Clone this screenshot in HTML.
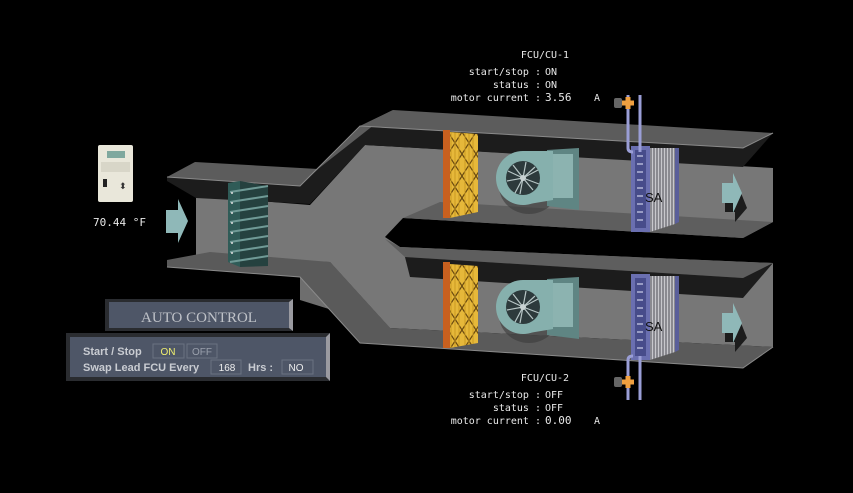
<!DOCTYPE html>
<html><head><meta charset="utf-8"><style>
html,body{margin:0;padding:0;background:#000;width:853px;height:493px;overflow:hidden}
svg{display:block}
.t{font-family:"DejaVu Sans Mono","Liberation Mono",monospace;font-size:10px;fill:#e8e8e8}
.p{font-family:"Liberation Sans",sans-serif;font-weight:bold;font-size:11px;fill:#c9ccd2}
</style></head><body>
<svg width="853" height="493" viewBox="0 0 853 493" xmlns="http://www.w3.org/2000/svg">
<defs>
<pattern id="hatch" width="14" height="22" patternUnits="userSpaceOnUse">
<rect width="14" height="22" fill="#e6b83a"/>
<path d="M0,0 L14,22 M14,0 L0,22" stroke="#6a4a10" stroke-width="1.2"/>
<path d="M3,0V22M7,0V22M11,0V22" stroke="#c99a22" stroke-width="1"/>
</pattern>
<pattern id="mesh" width="3" height="3" patternUnits="userSpaceOnUse">
<rect width="3" height="3" fill="#8a8a90"/><rect width="1" height="3" fill="#c8c8cc"/>
</pattern>
<g id="fan">
<ellipse cx="6" cy="8" rx="30" ry="28" fill="#3a3a3a" opacity="0.6"/>
<path d="M24,-28 L56,-30 L56,32 L24,28 Z" fill="#5f8583"/>
<path d="M28,-24 L50,-24 L50,20 L28,20Z" fill="#8cb3b0"/>
<circle cx="0" cy="0" r="27" fill="#86b0ad"/>
<path d="M0,-27 L30,-27 L30,22 L0,27Z" fill="#86b0ad"/>
<circle cx="0" cy="0" r="17" fill="#2d3a3c"/>
<g stroke="#b8c6c6" stroke-width="1.2">
<path d="M0,0L15,-8M0,0L10,12M0,0L-8,15M0,0L-16,3M0,0L-10,-13M0,0L3,-16M0,0L16,6M0,0L-3,16M0,0L-15,-7M0,0L12,-11"/>
</g>
<circle cx="0" cy="0" r="3" fill="#c9d3d3"/>
</g>
<g id="coil">
<rect x="0" y="0" width="19" height="86" fill="#6a6fb0"/>
<rect x="4" y="4" width="11" height="78" fill="#474c8a"/>
<g stroke="#c8cbe8" stroke-width="1.3">
<path d="M6,10h6M6,18h6M6,26h6M6,34h6M6,42h6M6,50h6M6,58h6M6,66h6M6,74h6"/>
</g>
<polygon points="19,2 44,2 44,78 19,86" fill="url(#mesh)"/>
<polygon points="44,2 48,2 48,76 44,78" fill="#5a5f9a"/>
</g>
</defs>

<!-- interior back -->
<polygon points="196,196 310,205 365,145 773,168 773,347 390,328 330,262 196,258" fill="#777"/>
<!-- lighter transition floor -->
<polygon points="300,262 330,262 390,328 300,300" fill="#6e6e6e"/>

<!-- upper black bands -->
<polygon points="167,177 300,186 360,126 743,148 743,167 365,145 310,204 196,198 167,181" fill="#1c1c1c"/>
<!-- top plates -->
<polygon points="167,177 195,162 318,169 300,186" fill="#5c5c5c"/>
<polygon points="300,186 318,169 393,110 360,126" fill="#5c5c5c"/>
<polygon points="360,126 393,110 773,133 743,148" fill="#5c5c5c"/>
<polygon points="743,148 773,133 743,167" fill="#1c1c1c"/>

<!-- middle separator -->
<polygon points="385,237 403,218 743,238 773,222 773,263 400,247" fill="#000"/>
<polygon points="403,218 440,202 773,222 743,238" fill="#5e5e5e"/>
<polygon points="385,239 400,247 773,263 743,278 405,257" fill="#5e5e5e"/>
<polygon points="405,257 743,278 743,298 410,277" fill="#1c1c1c"/>
<polygon points="743,278 773,263 743,298" fill="#1c1c1c"/>

<!-- bottom plate -->
<polygon points="167,260 210,252 330,262 390,328 773,347 743,368 360,343 300,277 167,267" fill="#5a5a5a"/>
<polyline points="167,267 300,277 360,343 743,368 773,347" fill="none" stroke="#8a8a8a" stroke-width="1"/>
<polyline points="167,177 300,186 360,126 743,148 773,133" fill="none" stroke="#8a8a8a" stroke-width="1"/>

<!-- damper -->
<polygon points="228,183 240,181 240,267 228,262" fill="#2f5b57"/>
<polygon points="240,181 268,186 268,266 240,267" fill="#25413f"/>
<g stroke="#6f9a96" stroke-width="2">
<path d="M230,192L268,186M230,202L268,196M230,212L268,206M230,222L268,216M230,232L268,226M230,242L268,236M230,252L268,246M230,262L268,256"/>
</g>
<g fill="#ddd"><circle cx="232" cy="193" r="1"/><circle cx="232" cy="203" r="1"/><circle cx="232" cy="213" r="1"/><circle cx="232" cy="223" r="1"/><circle cx="232" cy="233" r="1"/><circle cx="232" cy="243" r="1"/><circle cx="232" cy="253" r="1"/></g>

<!-- filters -->
<polygon points="443,130 450,130 450,218 443,218" fill="#c8601f"/>
<polygon points="450,132 478,134 478,212 450,218" fill="url(#hatch)"/>
<polygon points="443,262 450,262 450,348 443,348" fill="#c8601f"/>
<polygon points="450,264 478,266 478,343 450,348" fill="url(#hatch)"/>

<!-- fans -->
<use href="#fan" x="523" y="178"/>
<use href="#fan" x="523" y="307"/>

<!-- coils -->
<use href="#coil" x="631" y="146"/>
<use href="#coil" x="631" y="274"/>
<text x="645" y="202" font-family="Liberation Sans,sans-serif" font-size="13" fill="#111">SA</text>
<text x="645" y="331" font-family="Liberation Sans,sans-serif" font-size="13" fill="#111">SA</text>

<!-- pipes -->
<g stroke="#9a9ed6" stroke-width="3" fill="none">
<path d="M628,95V148Q628,152 633,152"/><path d="M640,95V152"/>
<path d="M628,400V360Q628,356 633,356"/><path d="M640,400V356"/>
</g>
<rect x="614" y="98" width="8" height="10" fill="#666" rx="2"/>
<path d="M622,103h12M628,97v12" stroke="#f0a040" stroke-width="5"/>
<rect x="614" y="377" width="8" height="10" fill="#666" rx="2"/>
<path d="M622,382h12M628,376v12" stroke="#f0a040" stroke-width="5"/>

<!-- arrows -->
<polygon points="166,210 178,210 178,199 188,221 178,243 178,233 166,233" fill="#8fb8b8"/>
<polygon points="725,186 735,186 735,178 747,208 735,222 735,212 725,212" fill="#1c1c1c"/>
<polygon points="722,183 733,183 733,173 742,193 733,213 733,203 722,203" fill="#8fb8b8"/>
<polygon points="725,316 735,316 735,308 747,338 735,352 735,342 725,342" fill="#1c1c1c"/>
<polygon points="722,313 733,313 733,303 742,323 733,343 733,333 722,333" fill="#8fb8b8"/>

<!-- thermostat -->
<rect x="98" y="145" width="35" height="57" rx="2" fill="#e9e7da"/>
<rect x="107" y="151" width="18" height="7" fill="#7fa89e"/>
<rect x="101" y="162" width="29" height="10" fill="#d8d6c8"/>
<rect x="103" y="179" width="4" height="8" fill="#222"/>
<text x="119" y="189" font-size="9" fill="#333" font-family="DejaVu Sans,sans-serif">⬍</text>
<text class="t" x="93" y="226" style="font-size:11px">70.44  °F</text>

<!-- FCU text -->
<g class="t" text-anchor="end">
<text x="545" y="58" text-anchor="middle">FCU/CU-1</text>
<text x="541" y="75">start/stop :</text>
<text x="541" y="88">status :</text>
<text x="541" y="101">motor current :</text>
<text x="545" y="381" text-anchor="middle">FCU/CU-2</text>
<text x="541" y="398">start/stop :</text>
<text x="541" y="411">status :</text>
<text x="541" y="424">motor current :</text>
</g>
<g class="t">
<text x="545" y="75">ON</text><text x="545" y="88">ON</text>
<text x="545" y="101" style="font-size:11px">3.56</text><text x="594" y="101">A</text>
<text x="545" y="398">OFF</text><text x="545" y="411">OFF</text>
<text x="545" y="424" style="font-size:11px">0.00</text><text x="594" y="424">A</text>
</g>

<!-- control panels -->
<rect x="105" y="299" width="188" height="32" fill="#2a2c30"/>
<rect x="109" y="302" width="180" height="26" fill="#4e5667"/>
<polygon points="289,302 293,299 293,331 289,328" fill="#9a9aa0"/>
<text x="199" y="322" text-anchor="middle" font-family="Liberation Serif,serif" font-size="15" fill="#bfc2c8">AUTO CONTROL</text>
<rect x="66" y="333" width="264" height="48" fill="#2a2c30"/>
<rect x="70" y="337" width="256" height="40" fill="#4e5667"/>
<polygon points="326,337 330,333 330,381 326,377" fill="#9a9aa0"/>
<text class="p" x="83" y="355">Start / Stop</text>
<text class="p" x="83" y="371">Swap Lead FCU Every</text>
<text class="p" x="248" y="371">Hrs :</text>
<rect x="153" y="344" width="31" height="14" fill="none" stroke="#6a7282"/>
<text x="168" y="355" text-anchor="middle" font-family="Liberation Sans,sans-serif" font-size="10" fill="#f0f070">ON</text>
<rect x="187" y="344" width="30" height="14" fill="none" stroke="#6a7282"/>
<text x="202" y="355" text-anchor="middle" font-family="Liberation Sans,sans-serif" font-size="10" fill="#9aa0ac">OFF</text>
<rect x="211" y="360" width="30" height="14" fill="none" stroke="#6a7282"/>
<text x="227" y="371" text-anchor="middle" font-family="Liberation Sans,sans-serif" font-size="10" fill="#eee">168</text>
<rect x="282" y="360" width="31" height="14" fill="none" stroke="#6a7282"/>
<text x="296" y="371" text-anchor="middle" font-family="Liberation Sans,sans-serif" font-size="10" fill="#eee">NO</text>
</svg>
</body></html>
